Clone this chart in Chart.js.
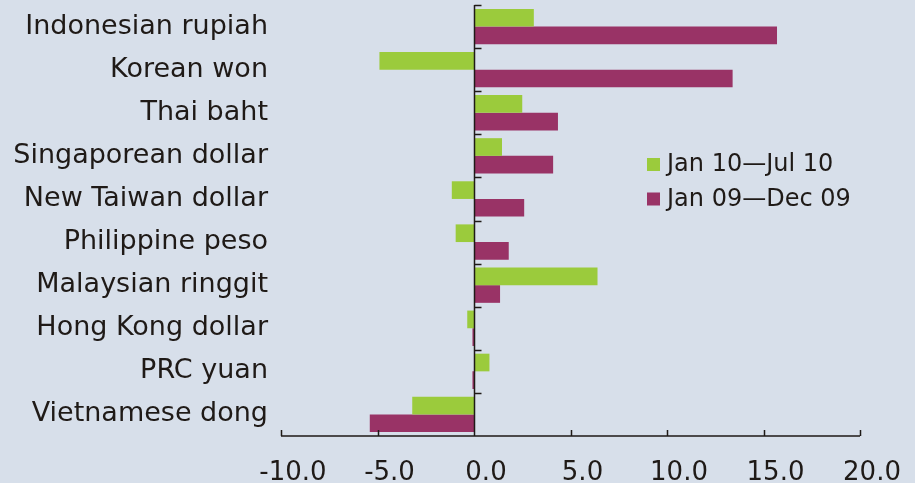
<!DOCTYPE html>
<html>
<head>
<meta charset="utf-8">
<script src="https://cdn.jsdelivr.net/npm/chart.js@4.4.1/dist/chart.umd.min.js"></script>
<style>
html, body { margin: 0; padding: 0; background: #d7dfea; }
#wrap { width: 915px; height: 483px; }
</style>
</head>
<body>
<div id="wrap"><canvas id="fx"></canvas></div>
<script>
const currencies = ['Indonesian rupiah', 'Korean won', 'Thai baht', 'Singaporean dollar', 'New Taiwan dollar',
    'Philippine peso', 'Malaysian ringgit', 'Hong Kong dollar', 'PRC yuan', 'Vietnamese dong'];
const jan10Jul10 = [3.1, -4.9, 2.5, 1.45, -1.15, -0.95, 6.4, -0.35, 0.8, -3.2];
const jan09Dec09 = [15.7, 13.4, 4.35, 4.1, 2.6, 1.8, 1.35, -0.08, -0.08, -5.4];
const xMin = -10, xMax = 20, xStep = 5;

const ink = '#1f1a17';
const green = '#9bcb3c';
const purple = '#993366';

// axis lines, inward ticks and the zero line
const axesPlugin = {
    id: 'axes',
    afterDatasetsDraw(chart) {
        const { ctx, chartArea: a, scales: { x, y } } = chart;
        ctx.save();
        ctx.strokeStyle = ink;
        ctx.lineWidth = 1.5;
        ctx.beginPath();
        ctx.moveTo(a.left, a.bottom);
        ctx.lineTo(a.right, a.bottom);
        for (let v = xMin; v <= xMax; v += xStep) {
            const px = Math.round(x.getPixelForValue(v)) + 0.5;
            ctx.moveTo(px, a.bottom);
            ctx.lineTo(px, a.bottom - 6);
        }
        const x0 = Math.round(x.getPixelForValue(0)) + 0.5;
        ctx.moveTo(x0, a.top);
        ctx.lineTo(x0, a.bottom);
        const band = (y.getPixelForValue(1) - y.getPixelForValue(0));
        for (let i = 0; i < currencies.length; i++) {
            const py = Math.round(y.getPixelForValue(i) - band / 2) + 0.5;
            ctx.moveTo(x0, py);
            ctx.lineTo(x0 + 7, py);
        }
        ctx.stroke();
        ctx.restore();
    }
};

const legendPlugin = {
    id: 'boxLegend',
    afterDraw(chart) {
        const { ctx } = chart;
        ctx.save();
        ctx.font = '24px "DejaVu Sans"';
        ctx.textBaseline = 'middle';
        chart.data.datasets.forEach((ds, i) => {
            const cy = 165 + i * 34.5;
            ctx.fillStyle = ds.backgroundColor;
            ctx.fillRect(647, cy - 7, 13, 13);
            ctx.fillStyle = ink;
            ctx.fillText(ds.label, 667, cy);
        });
        ctx.restore();
    }
};

new Chart(document.getElementById('fx'), {
    type: 'bar',
    data: {
        labels: currencies,
        datasets: [{
            label: 'Jan 10\u2014Jul 10',
            data: jan10Jul10,
            backgroundColor: green
        }, {
            label: 'Jan 09\u2014Dec 09',
            data: jan09Dec09,
            backgroundColor: purple
        }]
    },
    options: {
        indexAxis: 'y',
        responsive: true,
        maintainAspectRatio: false,
        animation: false,
        datasets: {
            bar: { categoryPercentage: 0.82, barPercentage: 1.0 }
        },
        layout: { padding: { top: 5, right: 55, left: 0, bottom: 0 } },
        plugins: {
            legend: { display: false },
            tooltip: { enabled: false }
        },
        scales: {
            x: {
                min: xMin,
                max: xMax,
                grid: { display: false },
                border: { display: false },
                ticks: {
                    stepSize: xStep,
                    color: ink,
                    font: { family: 'DejaVu Sans', size: 26 },
                    padding: 14,
                    labelOffset: 12,
                    maxRotation: 0,
                    callback: v => v.toFixed(1)
                },
                afterFit: s => { s.height = 47; }
            },
            y: {
                grid: { display: false, drawTicks: false },
                border: { display: false },
                ticks: {
                    color: ink,
                    font: { family: 'DejaVu Sans', size: 27 },
                    padding: 13
                },
                afterFit: s => { s.width = 281; s.paddingTop = 0; s.paddingBottom = 0; }
            }
        }
    },
    plugins: [axesPlugin, legendPlugin]
});
</script>
</body>
</html>
